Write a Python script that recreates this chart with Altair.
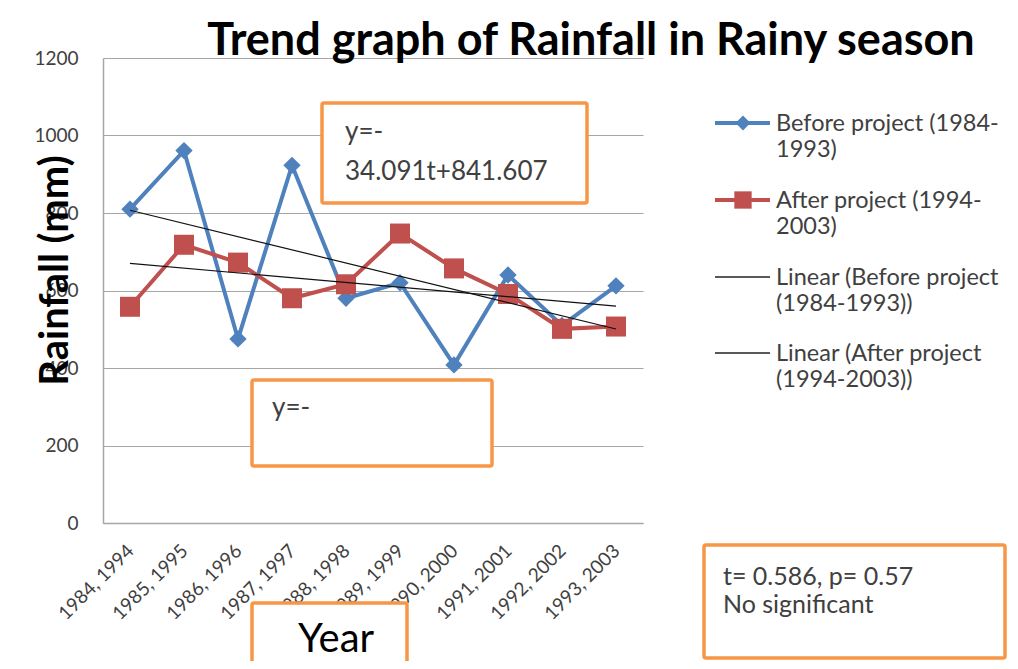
import json
import altair as alt
import pandas as pd

# ---------------- data ----------------
categories = ["1984, 1994", "1985, 1995", "1986, 1996", "1987, 1997", "1988, 1998",
              "1989, 1999", "1990, 2000", "1991, 2001", "1992, 2002", "1993, 2003"]
period_index = [1, 2, 3, 4, 5, 6, 7, 8, 9, 10]
before_project = [810, 961, 475, 923, 580, 620, 408, 640, 510, 612]
after_project = [558, 718, 672, 580, 616, 747, 657, 591, 501, 507]
series_names = ["Before project (1984-1993)", "After project (1994-2003)"]
y_ticks = [0, 200, 400, 600, 800, 1000, 1200]

legend_labels = ["Before project (1984-\n1993)", "After project (1994-\n2003)",
                 "Linear (Before project\n(1984-1993))", "Linear (After project\n(1994-2003))"]
title_text = "Trend graph of Rainfall in Rainy season"
box1_text = "y=-\n34.091t+841.607"
box2_text = "y=-"
x_title_text = "Year"
stats_text = "t= 0.586, p= 0.57\nNo significant"

# ---------------- styles ----------------
FONT = "Lato"
BLUE = "#4F81BD"
RED = "#C0504D"
ORANGE = "#F79646"
GRID = "#A6A6A6"
TEXT = "#404040"
W, H = 540, 465

df = pd.DataFrame({
    "t": period_index * 2,
    "series": [series_names[0]] * 10 + [series_names[1]] * 10,
    "rainfall": before_project + after_project,
})

label_expr = json.dumps(categories) + "[datum.value - 1]"

x_enc = alt.X(
    "t:Q",
    scale=alt.Scale(domain=[0.5, 10.5], nice=False, zero=False),
    axis=alt.Axis(values=period_index, labelExpr=label_expr, labelAngle=315,
                  labelAlign="right", labelBaseline="top", grid=False, ticks=False,
                  domainColor=GRID, domainWidth=1.5, labelFontSize=19, labelFont=FONT,
                  labelColor=TEXT, labelPadding=18, labelOffset=-6, title=None,
                  labelOverlap=False),
)
y_enc = alt.Y(
    "rainfall:Q",
    scale=alt.Scale(domain=[0, 1200], nice=False),
    axis=alt.Axis(values=y_ticks, format="d", grid=True, gridColor=GRID, gridWidth=1.2,
                  ticks=False, domainColor=GRID, domainWidth=1.5, labelFontSize=19,
                  labelFont=FONT, labelColor=TEXT, labelPadding=25,
                  title="Rainfall (mm)", titleFont=FONT, titleFontSize=40,
                  titleFontWeight="bold", titleColor="black", titleAngle=270,
                  titleX=-36, titleY=212, titleAlign="center", titleBaseline="alphabetic"),
)
color_enc = alt.Color("series:N", scale=alt.Scale(domain=series_names, range=[BLUE, RED]),
                      legend=None)

base = alt.Chart(df).encode(x=x_enc, y=y_enc, color=color_enc)
lines = base.mark_line(strokeWidth=4)
points = base.mark_point(filled=True, opacity=1).encode(
    shape=alt.Shape("series:N", scale=alt.Scale(domain=series_names, range=["diamond", "square"]),
                    legend=None),
    size=alt.Size("series:N", scale=alt.Scale(domain=series_names, range=[300, 400]), legend=None),
)
trend = alt.Chart(df).transform_regression(
    "t", "rainfall", groupby=["series"]
).mark_line(color="#111111", strokeWidth=1.2).encode(x=x_enc, y=y_enc, detail="series:N")

one = pd.DataFrame({"k": [0]})


def box(x1, y1, x2, y2):
    return alt.Chart(one).mark_rect(fill="white", stroke=ORANGE, strokeWidth=3.5,
                                    cornerRadius=2).encode(
        x=alt.value(x1), x2=alt.value(x2), y=alt.value(y1), y2=alt.value(y2))


def text(t, x, y, size, align="left", weight="normal", color=TEXT, line_height=None):
    kw = dict(align=align, baseline="alphabetic", font=FONT, fontSize=size,
              fontWeight=weight, color=color, lineBreak="\n")
    if line_height:
        kw["lineHeight"] = line_height
    return alt.Chart(pd.DataFrame({"label": [t]})).mark_text(**kw).encode(
        x=alt.value(x), y=alt.value(y), text="label:N")


layers = [lines, points, trend]

# title
layers.append(text(title_text, 488, -3, 45, align="center", weight="bold", color="black"))
# equation boxes
layers += [box(219, 45, 484, 145), text(box1_text, 242, 82, 26, line_height=40)]
layers += [box(149, 322, 389, 408), text(box2_text, 169, 358, 26)]
# Year box
layers += [box(149, 545, 304, 606), text(x_title_text, 233, 594, 40, align="center", color="black")]
# stats box
layers += [box(601, 487, 902, 600), text(stats_text, 620, 527, 25, line_height=28)]

# legend
leg_y = [65, 142, 219, 295]
leg_colors = [BLUE, RED, "#222222", "#222222"]
leg_widths = [4, 4, 1.3, 1.3]
for i in range(4):
    yy = leg_y[i]
    layers.append(alt.Chart(one).mark_rule(color=leg_colors[i], strokeWidth=leg_widths[i]).encode(
        x=alt.value(612), x2=alt.value(667), y=alt.value(yy)))
    if i < 2:
        layers.append(alt.Chart(one).mark_point(
            filled=True, opacity=1, color=leg_colors[i],
            shape=["diamond", "square"][i], size=[220, 300][i]).encode(
            x=alt.value(640), y=alt.value(yy)))
    layers.append(text(legend_labels[i], 673, yy + 8, 23.5, line_height=26))

chart = alt.layer(*layers).properties(
    width=W, height=H,
    autosize=alt.AutoSizeParams(type="none"),
    padding={"left": 95, "top": 50, "right": 366, "bottom": 138},
    background="white",
).configure_view(stroke=None)

chart.save("out.html", embed_options={"renderer": "svg", "actions": False})
